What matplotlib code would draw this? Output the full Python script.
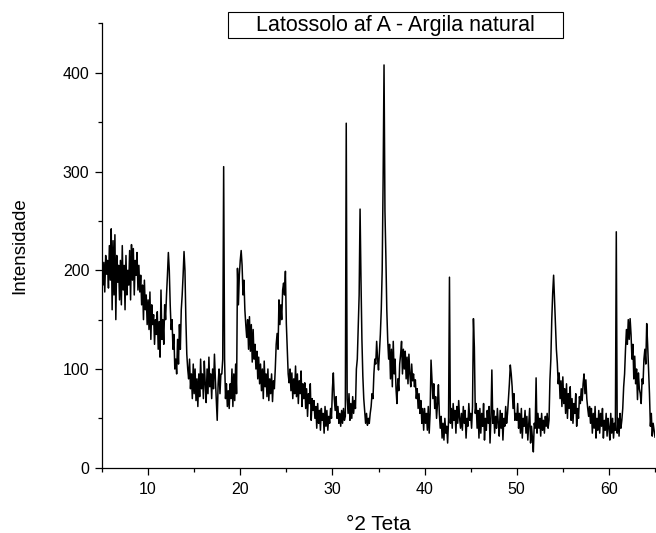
import matplotlib.pyplot as plt
from matplotlib.patches import Rectangle
from matplotlib.ticker import MultipleLocator
import numpy as np

plt.rcParams['font.family'] = ['Liberation Sans', 'DejaVu Sans']

#----DATA (one row per degree, 0.1 deg steps)----#
start_angle = 5.0
step = 0.1
intensity = [
    192, 185, 208, 178, 215, 196, 210, 182, 225, 190,   # 5
    242, 160, 230, 175, 236, 150, 215, 188, 205, 170,   # 6
    210, 165, 225, 180, 205, 160, 215, 175, 200, 185,   # 7
    220, 170, 226, 190, 222, 175, 210, 195, 218, 180,   # 8
    205, 178, 195, 165, 185, 150, 190, 160, 175, 145,   # 9
    170, 140, 178, 130, 165, 145, 155, 125, 150, 135,   # 10
    158, 120, 148, 112, 180, 130, 150, 125, 165, 150,   # 11
    175, 195, 218, 200, 165, 140, 150, 120, 135, 100,   # 12
    110, 95, 130, 105, 145, 120, 160, 175, 195, 219,    # 13
    200, 150, 115, 100, 90, 110, 80, 95, 70, 105,       # 14
    75, 100, 68, 90, 62, 95, 72, 110, 80, 95,           # 15
    70, 108, 85, 66, 100, 75, 112, 82, 95, 70,          # 16
    100, 80, 115, 90, 70, 48, 85, 100, 75, 95,          # 17
    95, 110, 305, 110, 70, 85, 62, 78, 60, 85,          # 18
    70, 100, 62, 95, 68, 105, 75, 202, 165, 195,        # 19
    210, 220, 205, 175, 190, 160, 145, 132, 150, 120,   # 20
    153, 118, 145, 107, 140, 110, 125, 100, 118, 90,    # 21
    112, 85, 105, 78, 100, 70, 108, 82, 95, 72,         # 22
    100, 68, 90, 75, 95, 67, 88, 80, 100, 125,          # 23
    136, 120, 170, 145, 165, 150, 180, 187, 175, 199,   # 24
    146, 120, 95, 86, 100, 78, 96, 70, 90, 75,          # 25
    103, 72, 95, 65, 88, 75, 98, 62, 85, 70,            # 26
    86, 60, 80, 52, 75, 65, 85, 48, 70, 58,             # 27
    68, 50, 62, 40, 65, 45, 58, 38, 60, 48,             # 28
    55, 35, 62, 42, 58, 38, 52, 45, 60, 50,             # 29
    80, 96, 70, 58, 72, 50, 62, 45, 55, 42,             # 30
    58, 45, 60, 48, 52, 349, 70, 55, 75, 48,            # 31
    65, 50, 72, 55, 68, 60, 100, 110, 143, 175,         # 32
    262, 190, 130, 93, 70, 58, 45, 55, 43, 50,          # 33
    45, 55, 62, 75, 70, 95, 110, 105, 128, 110,         # 34
    99, 118, 135, 160, 200, 290, 408, 260, 214, 160,    # 35
    129, 110, 125, 90, 120, 82, 128, 95, 110, 80,       # 36
    65, 90, 78, 105, 115, 128, 95, 120, 100, 118,       # 37
    90, 112, 85, 115, 95, 82, 105, 88, 95, 82,          # 38
    89, 70, 80, 60, 75, 55, 68, 45, 60, 38,             # 39
    60, 45, 55, 38, 62, 35, 55, 109, 90, 70,            # 40
    85, 60, 72, 50, 65, 84, 55, 40, 52, 30,             # 41
    45, 28, 50, 35, 42, 25, 48, 193, 45, 60,            # 42
    40, 65, 48, 58, 35, 62, 45, 68, 50, 40,             # 43
    55, 38, 62, 45, 58, 30, 50, 42, 65, 48,             # 44
    55, 40, 62, 151, 122, 55, 65, 40, 58, 30,           # 45
    60, 35, 55, 42, 65, 28, 50, 38, 58, 45,             # 46
    62, 25, 50, 99, 45, 58, 35, 52, 40, 60,             # 47
    45, 32, 58, 40, 55, 28, 50, 42, 62, 45,             # 48
    55, 70, 85, 104, 95, 82, 60, 75, 48, 55,            # 49
    48, 65, 40, 55, 35, 60, 30, 50, 42, 58,             # 50
    35, 52, 28, 45, 60, 25, 42, 30, 16, 45,             # 51
    40, 91, 35, 55, 40, 50, 32, 55, 38, 48,             # 52
    35, 52, 42, 55, 40, 48, 89, 110, 150, 177,          # 53
    195, 170, 143, 120, 106, 85, 96, 70, 88, 62,        # 54
    92, 65, 80, 55, 85, 50, 75, 60, 82, 48,             # 55
    70, 45, 65, 55, 75, 42, 60, 50, 72, 65,             # 56
    80, 68, 85, 95, 75, 89, 70, 60, 52, 62,             # 57
    45, 60, 35, 55, 40, 62, 30, 50, 38, 58,             # 58
    35, 55, 42, 60, 30, 48, 38, 55, 32, 50,             # 59
    40, 28, 55, 35, 50, 30, 45, 38, 239, 35,            # 60
    50, 32, 55, 40, 48, 60, 82, 95, 120, 140,           # 61
    125, 150, 130, 151, 135, 110, 125, 90, 113, 85,     # 62
    100, 69, 96, 80, 75, 65, 90, 85, 110, 120,          # 63
    105, 146, 125, 100, 75, 42, 55, 32, 45, 38,         # 64
    31,                                                 # 65
]
two_theta = start_angle + step * np.arange(len(intensity))

title_text = 'Latossolo af A - Argila natural'

#---PLOT---#
fig = plt.figure(figsize=(6.56, 5.33), dpi=100)
ax = fig.add_axes([102 / 656, 1 - 467.7 / 533, 553 / 656, 444.2 / 533])
ax.plot(two_theta, intensity, color='black', lw=1.1)

ax.set_xlim(5, 65)
ax.set_ylim(0, 450)
ax.xaxis.set_major_locator(MultipleLocator(10))
ax.xaxis.set_minor_locator(MultipleLocator(5))
ax.yaxis.set_major_locator(MultipleLocator(100))
ax.yaxis.set_minor_locator(MultipleLocator(50))
ax.tick_params(which='both', direction='out', width=0.9, labelsize=11.5)
ax.tick_params(which='major', length=5)
ax.tick_params(which='minor', length=3)
ax.tick_params(axis='x', pad=5)
ax.tick_params(axis='y', pad=4)
ax.spines['top'].set_visible(False)
ax.spines['right'].set_visible(False)
for s in ('left', 'bottom'):
    ax.spines[s].set_linewidth(0.9)

ax.set_xlabel('°2 Teta', fontsize=15, labelpad=13)
ax.set_ylabel('Intensidade', fontsize=13.5, labelpad=25)

# boxed title above the plot
fig.add_artist(Rectangle((228 / 656, 1 - 38 / 533), 335 / 656, 26 / 533,
                         transform=fig.transFigure, fill=False,
                         ec='black', lw=0.8))
fig.text(395.5 / 656, 1 - 25 / 533, title_text, ha='center', va='center',
         fontsize=15.5)

fig.savefig('out.png', dpi=100)
